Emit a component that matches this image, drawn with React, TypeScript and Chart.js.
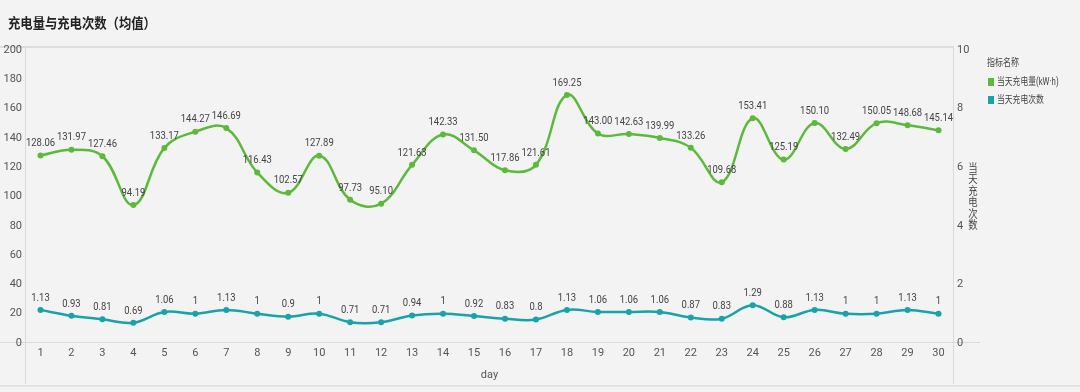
import React, { useEffect, useRef } from "react";
import { Chart, registerables } from "chart.js";

Chart.register(...registerables);

const days: string[] = [
  "1", "2", "3", "4", "5", "6", "7", "8", "9", "10",
  "11", "12", "13", "14", "15", "16", "17", "18", "19", "20",
  "21", "22", "23", "24", "25", "26", "27", "28", "29", "30",
];

const chargeAmount: number[] = [
  128.06, 131.97, 127.46, 94.19, 133.17, 144.27, 146.69, 116.43, 102.57, 127.89,
  97.73, 95.1, 121.63, 142.33, 131.5, 117.86, 121.61, 169.25, 143.0, 142.63,
  139.99, 133.26, 109.68, 153.41, 125.19, 150.1, 132.49, 150.05, 148.68, 145.14,
];

const chargeCount: number[] = [
  1.13, 0.93, 0.81, 0.69, 1.06, 1, 1.13, 1, 0.9, 1,
  0.71, 0.71, 0.94, 1, 0.92, 0.83, 0.8, 1.13, 1.06, 1.06,
  1.06, 0.87, 0.83, 1.29, 0.88, 1.13, 1, 1, 1.13, 1,
];

const leftTicks = { min: 0, max: 200, step: 20 };
const rightTicks = { min: 0, max: 10, step: 2 };

const TITLE = "充电量与充电次数（均值）";
const LEGEND_TITLE = "指标名称";
const SERIES_NAMES = ["当天充电量(kW·h)", "当天充电次数"];
const RIGHT_AXIS_TITLE = "当天充电次数";
const X_TITLE = "day";

const GREEN = "#5cba3b";
const TEAL = "#17a3a9";
const NUM_FONT = "'Roboto', 'Liberation Sans', sans-serif";
const CJK_FONT = "'Noto Sans CJK SC', sans-serif";
const MIXED_FONT = "'Roboto', 'Noto Sans CJK SC', sans-serif";

function drawSquished(ctx: CanvasRenderingContext2D, text: string, x: number, y: number, sx: number) {
  ctx.save();
  ctx.translate(x, y);
  ctx.scale(sx, 1);
  ctx.fillText(text, 0, 0);
  ctx.restore();
}

const decorPlugin = {
  id: "decor",
  beforeDraw(chart: any) {
    const ctx: CanvasRenderingContext2D = chart.ctx;
    const { left, right, bottom } = chart.chartArea;
    ctx.save();
    ctx.fillStyle = "#f3f3f3";
    ctx.fillRect(0, 0, chart.width, chart.height);
    ctx.strokeStyle = "#dddddd";
    ctx.lineWidth = 2;
    ctx.beginPath();
    ctx.moveTo(0, 47);
    ctx.lineTo(right, 47);
    ctx.stroke();
    ctx.lineWidth = 1;
    ctx.strokeStyle = "#d9d9d9";
    ctx.beginPath();
    ctx.moveTo(Math.round(left) + 0.5, 47);
    ctx.lineTo(Math.round(left) + 0.5, 384);
    ctx.moveTo(Math.round(right) - 0.5, 47);
    ctx.lineTo(Math.round(right) - 0.5, 384);
    ctx.moveTo(0, Math.round(bottom) - 0.5);
    ctx.lineTo(right + 26, Math.round(bottom) - 0.5);
    ctx.stroke();
    ctx.strokeStyle = "#e4e4e4";
    ctx.lineWidth = 2;
    ctx.beginPath();
    ctx.moveTo(0, 386);
    ctx.lineTo(chart.width, 386);
    ctx.stroke();
    ctx.restore();
  },
  afterDatasetsDraw(chart: any) {
    const ctx: CanvasRenderingContext2D = chart.ctx;
    ctx.save();
    ctx.fillStyle = "#444444";
    ctx.font = `11px ${NUM_FONT}`;
    ctx.textAlign = "center";
    ctx.textBaseline = "middle";
    chart.data.datasets.forEach((ds: any, di: number) => {
      const meta = chart.getDatasetMeta(di);
      meta.data.forEach((pt: any, i: number) => {
        const v = ds.data[i] as number;
        const txt = di === 0 ? v.toFixed(2) : String(v);
        drawSquished(ctx, txt, pt.x, pt.y - 12, 0.86);
      });
    });
    ctx.restore();
  },
  afterDraw(chart: any) {
    const ctx: CanvasRenderingContext2D = chart.ctx;
    const { right, top, bottom } = chart.chartArea;
    ctx.save();
    ctx.fillStyle = "#222222";
    ctx.font = `bold 14px ${CJK_FONT}`;
    ctx.textAlign = "left";
    ctx.textBaseline = "middle";
    drawSquished(ctx, TITLE, 8, 23, 0.88);
    ctx.fillStyle = "#444444";
    ctx.font = `11px ${CJK_FONT}`;
    ctx.textAlign = "center";
    const chars = Array.from(RIGHT_AXIS_TITLE);
    const pitch = 11.5;
    const cy = (top + bottom) / 2;
    const startY = cy - ((chars.length - 1) * pitch) / 2;
    chars.forEach((c, i) => {
      drawSquished(ctx, c, right + 19, startY + i * pitch, 0.85);
    });
    ctx.textAlign = "left";
    ctx.font = `10px ${CJK_FONT}`;
    ctx.fillStyle = "#444444";
    drawSquished(ctx, LEGEND_TITLE, 987, 62, 0.8);
    ctx.font = `10px ${MIXED_FONT}`;
    const colors = [GREEN, TEAL];
    SERIES_NAMES.forEach((name, i) => {
      const y = 82 + i * 18;
      ctx.fillStyle = colors[i];
      ctx.fillRect(988, y - 4, 6, 8);
      ctx.fillStyle = "#444444";
      drawSquished(ctx, name, 997, y, 0.78);
    });
    ctx.restore();
  },
};

export default function App() {
  const ref = useRef<HTMLCanvasElement | null>(null);
  useEffect(() => {
    if (!ref.current) return;
    const tickFont = { size: 11, family: NUM_FONT };
    const chart = new Chart(ref.current, {
      type: "line",
      data: {
        labels: days,
        datasets: [
          {
            label: SERIES_NAMES[0],
            data: chargeAmount,
            yAxisID: "y",
            borderColor: GREEN,
            backgroundColor: GREEN,
            pointBackgroundColor: GREEN,
            pointBorderWidth: 0,
            pointRadius: 3,
            borderWidth: 2.5,
            tension: 0.4,
          },
          {
            label: SERIES_NAMES[1],
            data: chargeCount,
            yAxisID: "y1",
            borderColor: TEAL,
            backgroundColor: TEAL,
            pointBackgroundColor: TEAL,
            pointBorderWidth: 0,
            pointRadius: 3,
            borderWidth: 2.5,
            tension: 0.4,
          },
        ],
      },
      options: {
        responsive: false,
        animation: false,
        layout: { padding: { top: 50, left: 0, right: 95, bottom: 0 } },
        plugins: {
          legend: { display: false },
          title: { display: false },
          tooltip: { enabled: false },
        },
        scales: {
          x: {
            type: "category",
            offset: true,
            grid: { display: false, drawTicks: false },
            border: { display: false },
            ticks: { padding: 4, color: "#555555", font: tickFont, maxRotation: 0, autoSkip: false },
            title: {
              display: true,
              text: X_TITLE,
              color: "#555555",
              font: tickFont,
              padding: { top: 4, bottom: 10 },
            },
            afterFit(s: any) {
              s.height = 49;
            },
          },
          y: {
            position: "left",
            min: leftTicks.min,
            max: leftTicks.max,
            grid: { display: false, drawTicks: false },
            border: { display: false },
            ticks: { stepSize: leftTicks.step, padding: 3, color: "#555555", font: tickFont },
            afterFit(s: any) {
              s.width = 25;
            },
          },
          y1: {
            position: "right",
            min: rightTicks.min,
            max: rightTicks.max,
            grid: { display: false, drawTicks: false },
            border: { display: false },
            ticks: { stepSize: rightTicks.step, padding: 3, color: "#555555", font: tickFont },
            afterFit(s: any) {
              s.width = 31;
            },
          },
        },
      },
      plugins: [decorPlugin],
    });
    return () => chart.destroy();
  }, []);
  return (
    <div style={{ position: "fixed", left: 0, top: 0, width: 1080, height: 392, background: "#f3f3f3" }}>
      <canvas ref={ref} width={1080} height={392} style={{ display: "block" }} />
    </div>
  );
}
